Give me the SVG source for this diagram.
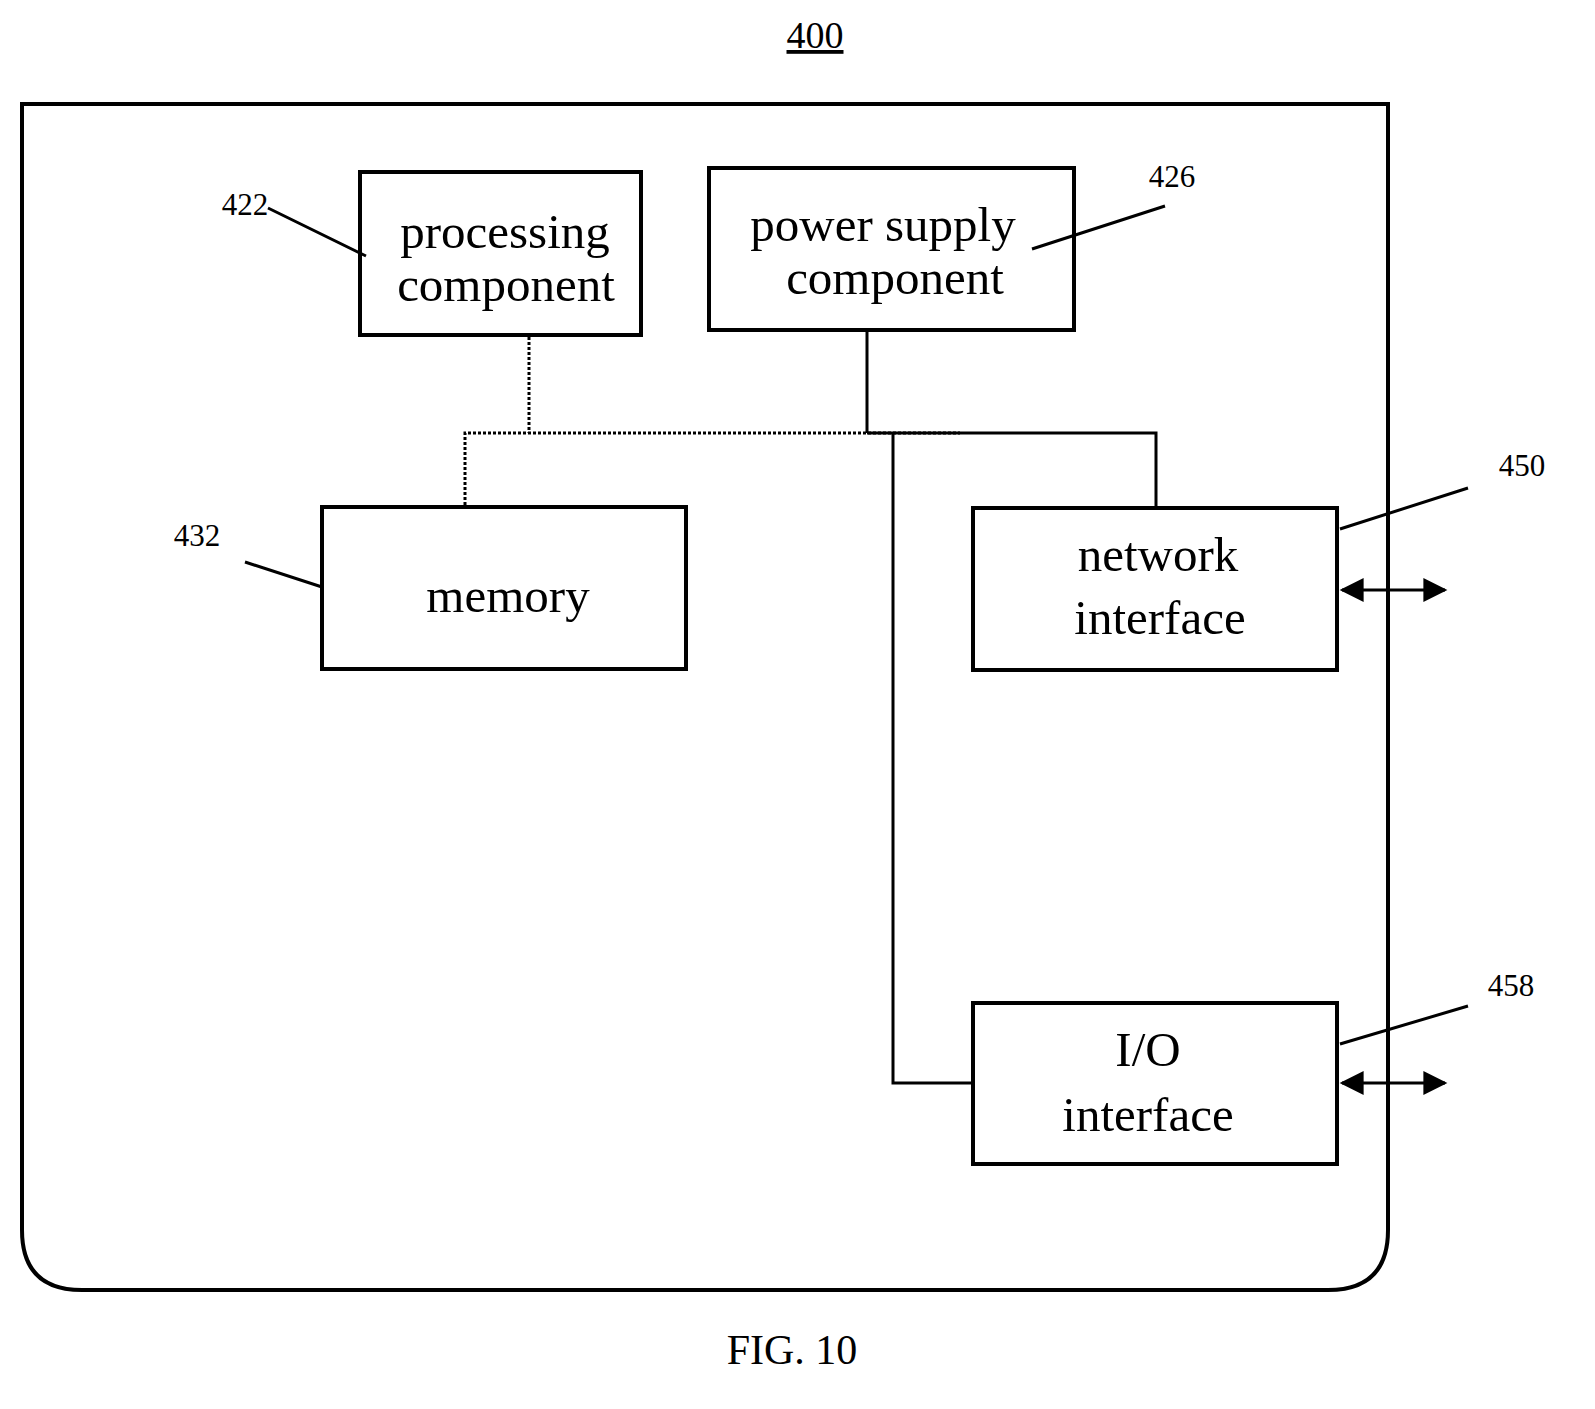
<svg xmlns="http://www.w3.org/2000/svg" width="1595" height="1409" viewBox="0 0 1595 1409">
<style>
text{font-family:"Liberation Serif","Times New Roman",serif;fill:#000;text-anchor:middle}
.b{fill:#fff;stroke:#000;stroke-width:4}
.t{font-size:49px}
.n{font-size:31px}
.l{stroke:#000;stroke-width:3;fill:none}
.d{stroke:#000;stroke-width:3;fill:none;stroke-dasharray:3 2}
</style>
<defs>
<marker id="ah" viewBox="0 0 10 10" refX="9" refY="5" markerWidth="27" markerHeight="24" markerUnits="userSpaceOnUse" orient="auto-start-reverse"><path d="M0,0L10,5L0,10z"/></marker>
</defs>
<text x="815" y="48" style="font-size:38px;text-decoration:underline">400</text>
<path d="M22,104H1388V1230Q1388,1290 1328,1290H82Q22,1290 22,1230Z" class="l" style="stroke-width:4"/>
<g id="n422"><rect class="b" x="360" y="172" width="281" height="163"/><text class="t" x="505" y="248">processing</text><text class="t" x="506" y="301">component</text><text class="n" x="245" y="215">422</text></g>
<g id="n426"><rect class="b" x="709" y="168" width="365" height="162"/><text class="t" x="883" y="241">power supply</text><text class="t" x="895" y="294">component</text><text class="n" x="1172" y="187">426</text></g>
<g id="n432"><rect class="b" x="322" y="507" width="364" height="162"/><text class="t" x="508" y="612">memory</text><text class="n" x="197" y="546">432</text></g>
<g id="n450"><rect class="b" x="973" y="508" width="364" height="162"/><text class="t" x="1158" y="571">network</text><text class="t" x="1160" y="634">interface</text><text class="n" x="1522" y="476">450</text></g>
<g id="n458"><rect class="b" x="973" y="1003" width="364" height="161"/><text class="t" x="1148" y="1066">I/O</text><text class="t" x="1148" y="1131">interface</text><text class="n" x="1511" y="996">458</text></g>
<g id="connectors">
<path class="d" d="M529,337V433M465,505V433H960"/>
<path class="l" d="M867,332V433M867,433H1156V506M893,433V1083H971"/>
<path class="l" d="M1342,590H1445" marker-start="url(#ah)" marker-end="url(#ah)"/>
<path class="l" d="M1342,1083H1445" marker-start="url(#ah)" marker-end="url(#ah)"/>
<path class="l" d="M268,208L366,256M1165,206L1032,249M245,562L322,587M1468,488L1340,529M1468,1006L1340,1044"/>
</g>
<text x="792" y="1364" style="font-size:42px">FIG. 10</text>
</svg>
